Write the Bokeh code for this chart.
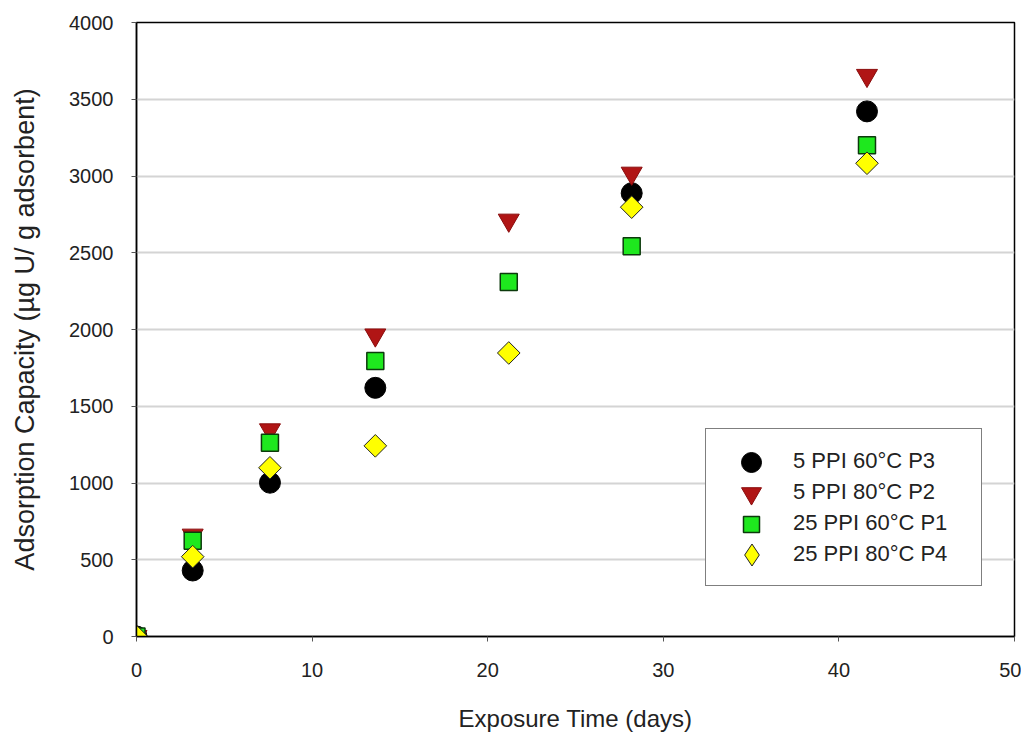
import numpy as np
from bokeh.plotting import figure
from bokeh.models import Legend, LegendItem, Range1d, FixedTicker
from bokeh.embed import file_html
from bokeh.resources import INLINE

# ---- data ----
days = [0, 3.2, 7.6, 13.6, 21.2, 28.2, 41.6]
p3_5ppi_60 = [0, 430, 1002, 1620, np.nan, 2888, 3421]
p2_5ppi_80 = [0, 660, 1346, 1964, 2712, 3018, 3655]
p1_25ppi_60 = [0, 624, 1262, 1795, 2309, 2543, 3200]
p4_25ppi_80 = [0, 520, 1099, 1242, 1847, 2797, 3083]
series_names = ["5 PPI 60°C P3", "5 PPI 80°C P2", "25 PPI 60°C P1", "25 PPI 80°C P4"]
x_ticks = [0, 10, 20, 30, 40, 50]
y_ticks = [0, 500, 1000, 1500, 2000, 2500, 3000, 3500, 4000]

FONT = "Liberation Sans"
TXT = "#222222"

FRAME_L, FRAME_T, FRAME_B = 136, 22, 637
H = 734
p = figure(width=1021, height=H, output_backend="svg", toolbar_location=None,
           x_range=Range1d(0, 50), y_range=Range1d(0, 4000),
           min_border_left=FRAME_L, min_border_top=FRAME_T, min_border_right=7,
           min_border_bottom=H - FRAME_B)

p.outline_line_color = "black"
p.outline_line_width = 1.5
p.background_fill_color = "white"
p.border_fill_color = "white"

r1 = p.scatter(days, p3_5ppi_60, marker="circle", size=21, fill_color="black", line_color="black")
r2 = p.scatter(days, p2_5ppi_80, marker="inverted_triangle", size=21, fill_color="#b01515", line_color="#8a0c0c")
r3 = p.scatter(days, p1_25ppi_60, marker="square", size=17, fill_color="#1ee81e", line_color="#0c3a0c", line_width=1.5)
r4 = p.scatter(days, p4_25ppi_80, marker="square", angle=np.pi / 4, size=16, fill_color="#ffff00", line_color="#222222", line_width=1)
# legend-only glyph (diamond shape, since legend glyphs are never rotated); NaN point draws nothing
r4_leg = p.scatter(x=[np.nan], y=[np.nan], marker="diamond", size=16, fill_color="#ffff00", line_color="#222222", line_width=1)

# axes
p.xaxis.ticker = FixedTicker(ticks=x_ticks)
p.yaxis.ticker = FixedTicker(ticks=y_ticks)
for ax in (p.xaxis[0], p.yaxis[0]):
    ax.axis_line_color = "black"
    ax.axis_line_width = 1.5
    ax.major_tick_line_color = "#555555"
    ax.major_tick_out = 5
    ax.major_tick_in = 0
    ax.minor_tick_line_color = None
    ax.major_label_text_font = FONT
    ax.major_label_text_font_size = "20px"
    ax.major_label_text_color = TXT
    ax.axis_label_text_font = FONT
    ax.axis_label_text_font_style = "normal"
    ax.axis_label_text_color = TXT

p.xaxis.axis_label = "Exposure Time (days)"
p.yaxis.axis_label = "Adsorption Capacity (µg U/ g adsorbent)"
p.xaxis.axis_label_text_font_size = "24px"
p.yaxis.axis_label_text_font_size = "27px"
p.xaxis.major_label_standoff = 21
p.xaxis.axis_label_standoff = 25
p.yaxis.major_label_standoff = 18
p.yaxis.axis_label_standoff = 26

p.xgrid.grid_line_color = None
p.ygrid.grid_line_color = "#d4d4d4"
p.ygrid.grid_line_width = 2

# main legend: box + labels
LEG_X, LEG_Y, PAD, ROW = 569, 50, 16, 31
legend = Legend(items=[
    LegendItem(label=series_names[0], renderers=[r1]),
    LegendItem(label=series_names[1], renderers=[r2]),
    LegendItem(label=series_names[2], renderers=[r3]),
    LegendItem(label=series_names[3], renderers=[r4_leg]),
], location=(LEG_X, LEG_Y))
legend.glyph_width = 60
legend.glyph_height = ROW
legend.spacing = 0
legend.padding = PAD
legend.label_standoff = 11
legend.label_width = 172
legend.label_height = ROW
legend.label_text_font = FONT
legend.label_text_font_size = "22px"
legend.label_text_color = TXT
legend.border_line_color = "black"
legend.border_line_width = 1.5
legend.background_fill_alpha = 1
legend.margin = 0
p.add_layout(legend, "center")

# larger legend markers, overlaid (legend glyph size = 0.4 * glyph box)
leg_top = FRAME_B - LEG_Y - (2 * PAD + 4 * ROW)
glyph_cx = LEG_X + PAD + 30  # relative to frame left
for i, (rend, box) in enumerate([(r1, 50), (r2, 50), (r3, 40), (r4_leg, 55)]):
    row_cy = leg_top + PAD + ROW * i + ROW / 2
    mk = Legend(items=[LegendItem(label=" ", renderers=[rend])],
                location=(glyph_cx - box / 2, FRAME_B - (row_cy + box / 2)))
    mk.glyph_width = box
    mk.glyph_height = box
    mk.padding = 0
    mk.margin = 0
    mk.spacing = 0
    mk.label_standoff = 0
    mk.label_width = 0
    mk.label_text_font_size = "1px"
    mk.label_height = 0
    mk.border_line_alpha = 0
    mk.background_fill_alpha = 0
    p.add_layout(mk, "center")

open("out.html", "w").write(file_html(p, INLINE))
